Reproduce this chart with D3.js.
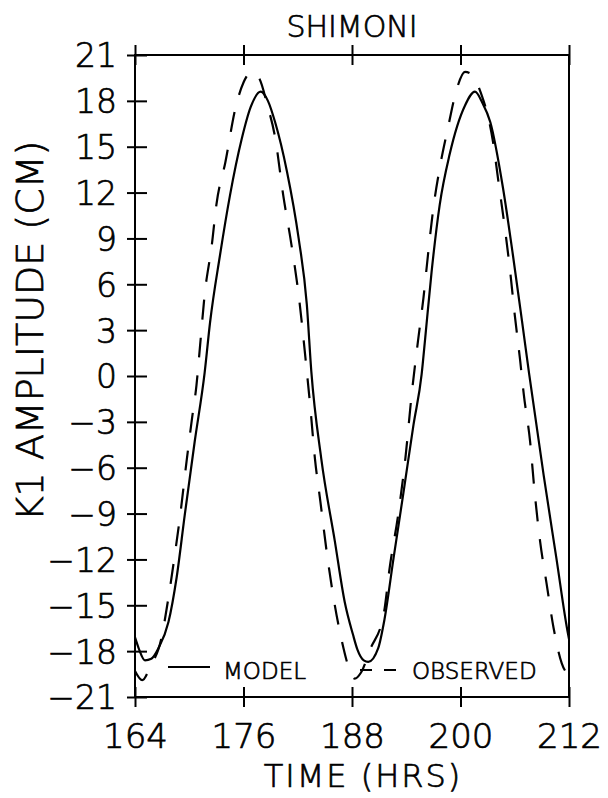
<!DOCTYPE html>
<html>
<head>
<meta charset="utf-8">
<script src="https://cdn.jsdelivr.net/npm/d3@7"></script>
<style>
  html, body { margin: 0; padding: 0; background: #fff; }
  svg { display: block; }
  text { font-family: "DejaVu Sans", sans-serif; font-weight: 200; fill: #000; stroke: #000; stroke-width: 0.7px; }
</style>
</head>
<body>
<div id="chart"></div>
<script>
// ── Data ──
const title = "SHIMONI";
const xLabel = "TIME (HRS)";
const yLabel = "K1 AMPLITUDE (CM)";

const xTicks = [164, 176, 188, 200, 212];
const yTicks = [-21, -18, -15, -12, -9, -6, -3, 0, 3, 6, 9, 12, 15, 18, 21];

// model (solid)
const modelTime = [164.0, 164.4, 165.1, 165.8, 166.6, 167.7, 168.6, 169.5, 170.6, 171.7,
  172.3, 173.4, 174.5, 175.8, 176.8, 177.9, 178.7, 179.5, 180.8, 182.1,
  183.0, 183.5, 184.6, 186.1, 187.2, 188.1, 188.6, 189.3, 189.8, 190.9,
  191.6, 192.6, 193.7, 194.8, 195.7, 196.1, 196.8, 197.7, 198.8, 200.5,
  201.6, 202.4, 203.3, 204.7, 205.8, 206.8, 207.6, 209.2, 210.6, 211.9, 212.0];
const modelAmp = [-17.1, -17.8, -18.6, -18.5, -17.8, -16.1, -13.2, -9.1, -4.3, 0.2,
  3.5, 7.9, 11.8, 15.5, 17.6, 18.6, 18.0, 16.6, 13.4, 9.0,
  4.7, 0.3, -5.4, -10.8, -14.8, -16.9, -17.9, -18.6, -18.7, -17.8,
  -15.9, -11.9, -7.6, -3.2, 0.1, 2.5, 6.8, 11.2, 14.5, 17.7,
  18.6, 17.9, 16.6, 12.3, 7.9, 3.6, 0.1, -6.5, -11.9, -16.9, -17.2];

// observed (dashed)
const obsTime = [164.0, 164.8, 165.7, 166.9, 167.7, 168.4, 169.0, 169.7, 170.3, 170.8,
  171.2, 171.7, 172.5, 173.0, 174.0, 175.1, 176.0, 176.9, 177.8, 178.6,
  179.5, 180.4, 181.3, 182.1, 182.9, 183.4, 183.9, 184.5, 185.2, 185.9,
  186.9, 187.6, 188.3, 189.0, 190.0, 191.5, 192.2, 193.1, 193.9, 194.6,
  195.3, 195.9, 196.4, 197.0, 197.7, 198.6, 199.6, 200.5, 201.3, 202.2,
  203.6, 204.2, 204.9, 205.5, 206.0, 206.6, 207.0, 207.7, 208.2, 208.8,
  209.5, 210.3, 211.2, 212.0];
const obsAmp = [-19.3, -19.9, -19.0, -17.2, -14.5, -11.7, -9.1, -5.6, -2.8, -0.6,
  2.0, 5.3, 8.6, 11.2, 14.0, 17.5, 19.2, 19.9, 19.4, 17.8,
  15.6, 11.8, 8.6, 5.3, 0.9, -2.1, -5.4, -8.2, -11.5, -14.3,
  -17.4, -19.0, -19.8, -19.4, -17.9, -15.6, -12.4, -9.1, -5.4, -1.2,
  2.3, 5.1, 7.9, 11.0, 13.6, 16.2, 18.8, 19.9, 19.7, 18.6,
  15.3, 12.7, 9.7, 6.8, 4.0, 1.0, -1.2, -4.3, -7.6, -10.8,
  -13.5, -16.5, -18.8, -19.6];

// ── Layout ──
const W = 608, H = 798;
const mLeft = 135, mRight = 569, mTop = 55, mBottom = 697;

const svg = d3.select("#chart").append("svg")
  .attr("width", W).attr("height", H);

const x = d3.scaleLinear().domain([164, 212]).range([mLeft, mRight]);
const y = d3.scaleLinear().domain([-21, 21]).range([mBottom, mTop]);

// ── Frame ──
svg.append("rect")
  .attr("x", mLeft).attr("y", mTop)
  .attr("width", mRight - mLeft).attr("height", mBottom - mTop)
  .attr("fill", "none").attr("stroke", "#000").attr("stroke-width", 2);

// ── Axes (crossing ticks) ──
const fmt = d => (d < 0 ? "\u2212" + Math.abs(d) : String(d));

const yAxis = svg.append("g")
  .attr("transform", `translate(${mLeft},0)`)
  .call(d3.axisLeft(y).tickValues(yTicks).tickFormat(fmt).tickSize(0));
yAxis.select(".domain").remove();
yAxis.selectAll(".tick line")
  .attr("x1", -8).attr("x2", 12)
  .attr("stroke", "#000").attr("stroke-width", 2);
yAxis.selectAll(".tick text")
  .attr("x", -18).attr("dy", "0.36em")
  .attr("font-size", 33).attr("font-family", null);

const xAxis = svg.append("g")
  .attr("transform", `translate(0,${mBottom})`)
  .call(d3.axisBottom(x).tickValues(xTicks).tickSize(0));
xAxis.select(".domain").remove();
xAxis.selectAll(".tick line")
  .attr("y1", -10).attr("y2", 10)
  .attr("stroke", "#000").attr("stroke-width", 2);
xAxis.selectAll(".tick text")
  .attr("y", 51).attr("dy", 0)
  .attr("font-size", 34).attr("font-family", null);

const xTop = svg.append("g")
  .attr("transform", `translate(0,${mTop})`)
  .call(d3.axisTop(x).tickValues(xTicks).tickSize(0).tickFormat(""));
xTop.select(".domain").remove();
xTop.selectAll(".tick line")
  .attr("y1", -10).attr("y2", 10)
  .attr("stroke", "#000").attr("stroke-width", 2);

// ── Curves ──
const line = d3.line()
  .x(d => x(d[0])).y(d => y(d[1]))
  .curve(d3.curveMonotoneX);

const model = d3.zip(modelTime, modelAmp);
const observed = d3.zip(obsTime, obsAmp);

svg.append("path")
  .datum(observed)
  .attr("d", line)
  .attr("fill", "none").attr("stroke", "#000")
  .attr("stroke-width", 2.2)
  .attr("stroke-dasharray", "20,18");

svg.append("path")
  .datum(model)
  .attr("d", line)
  .attr("fill", "none").attr("stroke", "#000")
  .attr("stroke-width", 2.2);

// ── Legend ──
svg.append("line")
  .attr("x1", 168).attr("x2", 210).attr("y1", 667).attr("y2", 667)
  .attr("stroke", "#000").attr("stroke-width", 2);
svg.append("text")
  .attr("x", 223).attr("y", 679)
  .attr("font-size", 23)
  .text("MODEL");

svg.append("line")
  .attr("x1", 360).attr("x2", 396).attr("y1", 670).attr("y2", 670)
  .attr("stroke", "#000").attr("stroke-width", 2)
  .attr("stroke-dasharray", "12,12");
svg.append("text")
  .attr("x", 412).attr("y", 679)
  .attr("font-size", 23)
  .text("OBSERVED");

// ── Titles ──
svg.append("text")
  .attr("x", (mLeft + mRight) / 2).attr("y", 37)
  .attr("text-anchor", "middle")
  .attr("font-size", 30)
  .text(title);

svg.append("text")
  .attr("x", 363).attr("y", 787)
  .attr("text-anchor", "middle")
  .attr("font-size", 32)
  .attr("letter-spacing", 2)
  .text(xLabel);

svg.append("text")
  .attr("transform", `translate(43,331) rotate(-90)`)
  .attr("text-anchor", "middle")
  .attr("font-size", 38)
  .text(yLabel);
</script>
</body>
</html>
